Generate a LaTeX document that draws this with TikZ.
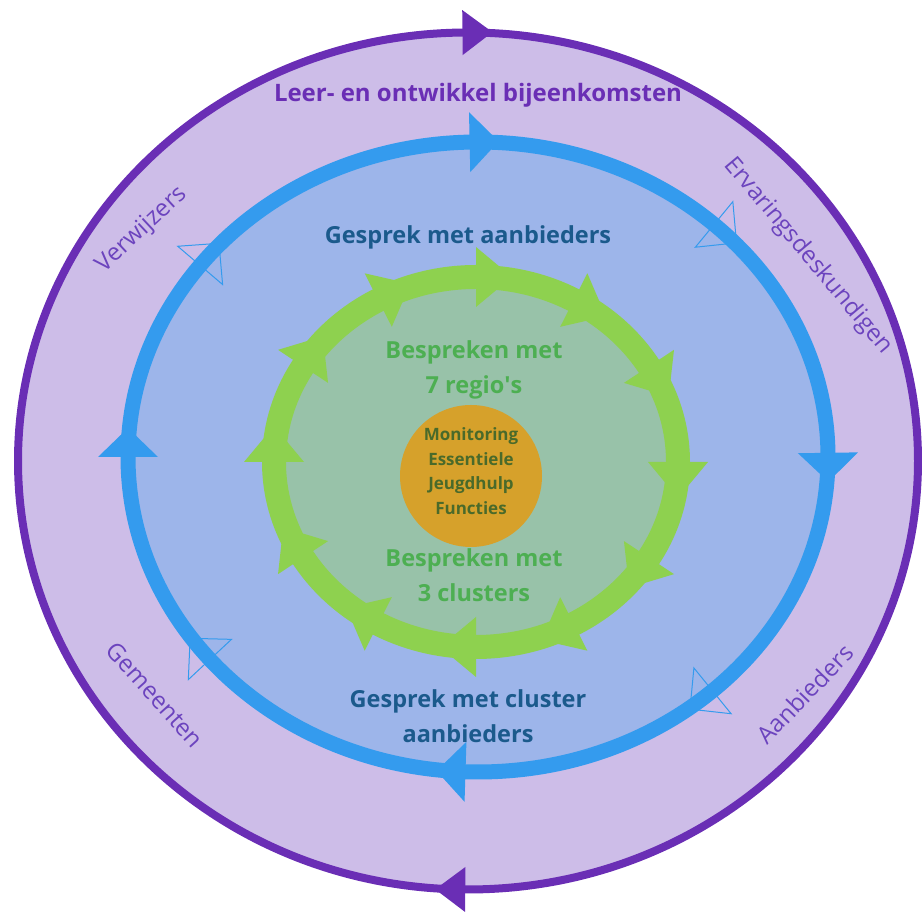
\documentclass[tikz,border=0pt]{standalone}
\usepackage{fontspec}
\setmainfont{Open Sans}
\usetikzlibrary{decorations.markings}

\definecolor{lilac}{HTML}{CDBDE8}
\definecolor{ringviolet}{HTML}{6A2EB5}
\definecolor{bgblue}{HTML}{9DB5EA}
\definecolor{ringblue}{HTML}{349BEE}
\definecolor{bggreen}{HTML}{98C2A9}
\definecolor{ringgreen}{HTML}{8ED14F}
\definecolor{coreorange}{HTML}{D6A12B}
\definecolor{txtblue}{HTML}{1B5A8C}
\definecolor{txtgreen}{HTML}{4DAF52}
\definecolor{txtolive}{HTML}{4A6A2A}
\definecolor{lblviolet}{HTML}{6C44BE}

% triangle on a ring, pointing clockwise (the ellipse runs counterclockwise)
\newcommand{\arrowtri}[3]{\fill[#1] (0pt,#3pt) -- (0pt,-#3pt) -- (-#2pt,0pt) -- cycle;}
\newcommand{\hollowtri}[3]{\draw[#1,line width=1pt,line join=miter] (0pt,#3pt) -- (0pt,-#3pt) -- (-#2pt,0pt) -- cycle;}

\tikzset{
    bigtext/.style={font=\bfseries\fontsize{23.5}{35}\selectfont, align=center},
    coretext/.style={font=\bfseries\fontsize{17}{24.5}\selectfont, align=center, text=txtolive},
    ringlabel/.style={font=\fontsize{24}{24}\selectfont, text=lblviolet, inner sep=0pt},
}

\begin{document}
\begin{tikzpicture}[x=1pt,y=1pt]
    \useasboundingbox (0,0) rectangle (922,912);

    % outer ring
    \draw[draw=ringviolet, line width=8pt, fill=lilac,
        postaction={decorate, decoration={markings,
            mark=at position 0.252 with {\arrowtri{ringviolet}{30}{22.5}},
            mark=at position 0.749 with {\arrowtri{ringviolet}{30}{22.5}}}}]
        (468,451) ellipse [x radius=450, y radius=428.5];

    % middle ring
    \fill[bgblue] (478,455) ellipse [x radius=350, y radius=315];
    \path[postaction={decorate, decoration={markings,
            mark=at position 0.128 with {\hollowtri{ringblue}{29}{29.5}},
            mark=at position 0.400 with {\hollowtri{ringblue}{29}{29.5}},
            mark=at position 0.607 with {\hollowtri{ringblue}{29}{29.5}},
            mark=at position 0.871 with {\hollowtri{ringblue}{29}{29.5}}}}]
        (478,455) ellipse [x radius=350, y radius=315];
    \draw[draw=ringblue, line width=15pt,
        postaction={decorate, decoration={markings,
            mark=at position 0.002 with {\arrowtri{ringblue}{29}{30}},
            mark=at position 0.254 with {\arrowtri{ringblue}{29}{30}},
            mark=at position 0.5 with {\arrowtri{ringblue}{29}{30}},
            mark=at position 0.744 with {\arrowtri{ringblue}{29}{30}}}}]
        (478,455) ellipse [x radius=350, y radius=315];

    % inner ring
    \draw[draw=ringgreen, line width=24pt, fill=bggreen,
        postaction={decorate, decoration={markings,
            mark=between positions 0 and 0.95 step 0.083333 with {\arrowtri{ringgreen}{36}{30}}}}]
        (476,450) ellipse [x radius=202, y radius=185];

    \node[circle, fill=coreorange, minimum size=142pt, inner sep=0pt] (core) at (471,436) {};
    \node[coretext] (corelabel) at (471,441) {Monitoring\\Essentiele\\Jeugdhulp\\Functies};

    \node[bigtext, text=ringviolet, font=\bfseries\fontsize{24}{35}\selectfont] (leer) at (478,817) {Leer- en ontwikkel bijeenkomsten};
    \node[bigtext, text=txtblue] (gesprek) at (468,675) {Gesprek met aanbieders};
    \node[bigtext, text=txtgreen] (regios) at (474,542) {Bespreken met\\7 regio\textquotesingle s};
    \node[bigtext, text=txtgreen] (clusters) at (474,337) {Bespreken met\\3 clusters};
    \node[bigtext, text=txtblue] (cluster) at (468,196) {Gesprek met cluster\\aanbieders};

    \node[ringlabel, rotate=43] (verwijzers) at (142,682) {Verwijzers};
    \node[ringlabel, rotate=-50] (ervaring) at (808,656) {Ervaringsdeskundigen};
    \node[ringlabel, rotate=-48] (gemeenten) at (155,217) {Gemeenten};
    \node[ringlabel, rotate=46] (aanbieders) at (805,218) {Aanbieders};
\end{tikzpicture}
\end{document}
